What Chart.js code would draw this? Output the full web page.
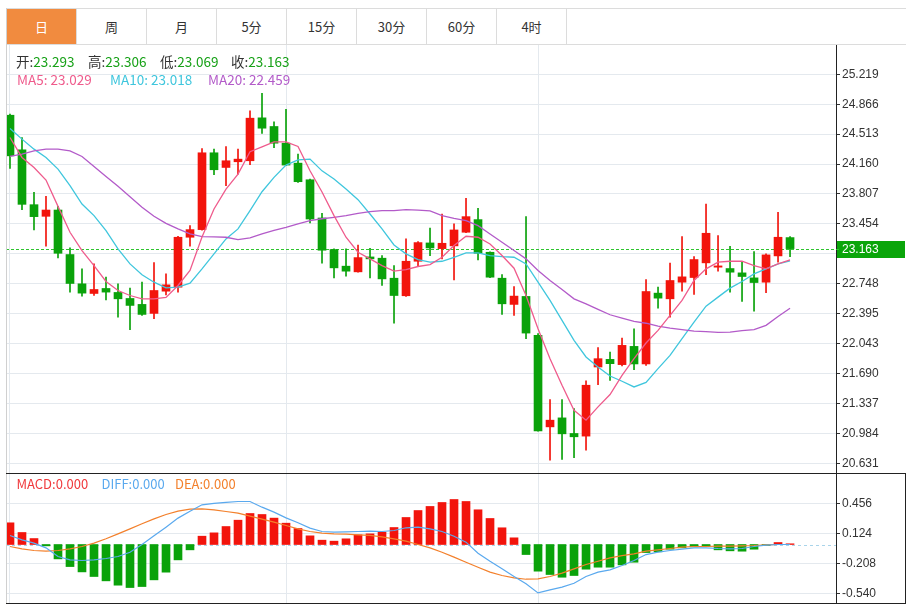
<!DOCTYPE html>
<html>
<head>
<meta charset="utf-8">
<script src="https://cdn.jsdelivr.net/npm/chart.js@4.4.1/dist/chart.umd.min.js"></script>
<style>
html,body{margin:0;padding:0;background:#fff;}
body{width:912px;height:604px;overflow:hidden;position:relative;font-family:"Noto Sans CJK SC","Noto Sans",sans-serif;}
.abs{position:absolute;}
.tab{position:absolute;top:9px;height:35px;width:69px;border-right:1px solid #dcdcdc;text-align:center;line-height:35px;font-size:13px;color:#333;}
.tab.on{background:#f18b3f;color:#fff;}
.hl{position:absolute;white-space:nowrap;line-height:16px;}
canvas{display:block;}
</style>
</head>
<body>
<div id="tabs"></div>
<div class="abs" style="left:6px;top:8px;width:900px;height:1px;background:#dcdcdc"></div>
<div class="abs" style="left:6px;top:44px;width:900px;height:1px;background:#dcdcdc"></div>
<div class="abs" style="left:6px;top:8px;width:1px;height:596px;background:#d0d0d0;z-index:3"></div>

<div class="abs" style="left:0;top:45px;width:912px;height:428px"><canvas id="main" width="912" height="428"></canvas></div>
<div class="abs" style="left:0;top:473px;width:912px;height:131px"><canvas id="macd" width="912" height="131"></canvas></div>

<div class="abs" style="left:6px;top:473px;width:900px;height:1px;background:#222;z-index:3"></div>
<div class="abs" style="left:6px;top:603px;width:900px;height:1px;background:#222;z-index:3"></div>
<div class="abs" style="left:905px;top:473px;width:1px;height:131px;background:#222;z-index:3"></div>

<div id="hdr"></div>

<script>
// ---------------- data ----------------
const tabLabels = ['日','周','月','5分','15分','30分','60分','4时'];

const opens  = [24.736,24.328,23.681,23.544,23.618,23.093,22.748,22.634,22.693,22.646,
                22.575,22.505,22.399,22.661,22.708,23.297,23.387,24.293,24.120,24.187,
                24.199,24.705,24.603,24.406,24.171,23.975,23.524,23.152,22.956,22.889,
                23.065,23.050,22.814,22.607,23.014,23.230,23.163,23.195,23.356,23.505,
                23.120,22.814,22.505,22.599,22.140,21.061,21.167,20.983,20.952,21.767,
                21.857,21.795,22.010,21.803,22.638,22.571,22.767,22.822,22.995,22.944,
                22.928,22.877,22.818,22.767,23.077,23.293];
const highs  = [24.748,24.473,23.826,23.779,23.661,23.171,22.924,22.983,22.826,22.748,
                22.697,22.767,22.999,22.865,23.308,23.434,24.344,24.336,24.367,24.336,
                24.787,24.995,24.657,24.806,24.277,23.983,23.579,23.160,23.159,23.206,
                23.167,23.081,22.963,23.277,23.246,23.406,23.571,23.454,23.756,23.638,
                23.125,22.857,22.716,23.540,22.160,21.383,21.383,21.277,21.603,21.995,
                21.944,22.108,22.218,22.799,22.708,22.991,23.305,23.069,23.689,23.316,
                23.191,23.014,23.128,23.101,23.591,23.306];
const lows   = [24.108,23.622,23.383,23.191,23.054,22.650,22.603,22.610,22.559,22.356,
                22.206,22.375,22.336,22.618,22.650,23.191,23.380,24.034,23.905,24.042,
                24.152,24.520,24.352,24.140,23.944,23.465,22.991,22.818,22.838,22.885,
                22.818,22.728,22.285,22.600,22.952,23.081,23.042,22.795,23.350,23.030,
                22.820,22.387,22.375,22.101,21.010,20.669,20.677,20.697,20.787,21.559,
                21.610,21.779,21.736,21.787,22.461,22.356,22.661,22.622,22.857,22.897,
                22.650,22.540,22.426,22.642,23.003,23.069];
const closes = [24.257,23.685,23.540,23.618,23.108,22.752,22.638,22.681,22.650,22.571,
                22.493,22.387,22.669,22.736,23.297,23.387,24.293,24.093,24.199,24.218,
                24.701,24.583,24.406,24.148,23.952,23.512,23.144,22.936,22.897,23.057,
                23.042,22.806,22.610,23.014,23.234,23.171,23.226,23.383,23.540,23.108,
                22.826,22.512,22.603,22.167,21.014,21.140,20.979,20.944,21.552,21.865,
                21.806,22.022,21.803,22.657,22.579,22.787,22.830,23.034,23.344,22.959,
                22.885,22.834,22.763,23.089,23.297,23.163];

const ma5  = [24.473,24.238,24.120,23.971,23.661,23.356,23.140,22.963,22.775,22.669,
              22.610,22.571,22.571,22.587,22.728,22.905,23.300,23.630,23.865,24.042,
              24.305,24.363,24.422,24.422,24.367,24.081,23.830,23.552,23.297,23.120,
              23.042,22.963,22.897,22.916,22.952,22.975,23.061,23.199,23.309,23.297,
              23.218,23.081,22.932,22.610,22.218,21.865,21.552,21.257,21.140,21.297,
              21.442,21.669,21.865,22.050,22.199,22.375,22.552,22.787,22.924,23.003,
              23.014,23.014,22.963,22.924,22.983,23.029];
const ma10 = [24.579,24.454,24.336,24.238,24.101,23.905,23.689,23.552,23.375,23.159,
              22.983,22.854,22.767,22.700,22.708,22.756,22.924,23.101,23.277,23.395,
              23.611,23.834,24.003,24.148,24.210,24.218,24.080,23.983,23.865,23.740,
              23.571,23.395,23.206,23.101,23.034,23.003,23.014,23.061,23.112,23.112,
              23.081,23.069,23.061,22.983,22.767,22.552,22.316,22.081,21.885,21.767,
              21.661,21.599,21.532,21.585,21.748,21.904,22.101,22.297,22.485,22.591,
              22.697,22.775,22.865,22.924,22.983,23.018];
const ma20 = [24.250,24.277,24.316,24.336,24.336,24.316,24.250,24.132,24.014,23.897,
              23.775,23.650,23.544,23.460,23.395,23.336,23.305,23.301,23.297,23.269,
              23.289,23.336,23.379,23.414,23.454,23.493,23.515,23.532,23.552,23.579,
              23.599,23.611,23.611,23.622,23.618,23.607,23.552,23.520,23.493,23.434,
              23.336,23.238,23.140,23.042,22.905,22.787,22.681,22.571,22.512,22.446,
              22.383,22.344,22.305,22.283,22.250,22.226,22.207,22.191,22.183,22.175,
              22.179,22.195,22.207,22.258,22.363,22.459];

const macdHist = [0.240,0.133,0.066,-0.015,-0.159,-0.244,-0.303,-0.354,-0.402,-0.450,
                  -0.476,-0.465,-0.391,-0.306,-0.170,-0.059,0.092,0.129,0.199,0.269,
                  0.343,0.332,0.292,0.236,0.177,0.096,0.048,0.037,0.063,0.107,
                  0.118,0.137,0.188,0.299,0.376,0.421,0.465,0.498,0.476,0.384,
                  0.288,0.185,0.074,-0.111,-0.295,-0.332,-0.362,-0.343,-0.273,-0.251,
                  -0.251,-0.225,-0.196,-0.089,-0.081,-0.052,-0.037,-0.026,-0.022,-0.059,
                  -0.070,-0.074,-0.052,-0.011,0.022,0.008];
const diff = [0.100,0.052,0.015,-0.037,-0.133,-0.170,-0.177,-0.170,-0.155,-0.133,
              -0.085,0.000,0.096,0.192,0.292,0.369,0.439,0.454,0.465,0.476,
              0.476,0.413,0.358,0.295,0.240,0.181,0.144,0.137,0.140,0.144,
              0.148,0.144,0.155,0.185,0.192,0.173,0.144,0.092,0.026,-0.096,
              -0.185,-0.269,-0.354,-0.435,-0.535,-0.502,-0.472,-0.428,-0.354,-0.306,
              -0.280,-0.232,-0.177,-0.111,-0.085,-0.066,-0.052,-0.037,-0.037,-0.044,
              -0.048,-0.044,-0.022,-0.007,0.000,0.000];
const dea = [-0.022,-0.048,-0.066,-0.074,-0.066,-0.048,-0.022,0.015,0.063,0.118,
             0.173,0.229,0.284,0.332,0.369,0.391,0.395,0.384,0.365,0.347,
             0.314,0.280,0.247,0.210,0.173,0.144,0.125,0.118,0.114,0.107,
             0.100,0.085,0.063,0.037,0.000,-0.037,-0.085,-0.140,-0.196,-0.251,
             -0.306,-0.343,-0.369,-0.384,-0.380,-0.354,-0.317,-0.269,-0.221,-0.185,
             -0.148,-0.122,-0.103,-0.074,-0.059,-0.044,-0.030,-0.022,-0.022,-0.018,
             -0.018,-0.015,-0.011,-0.004,0.000,0.000];

const yTicks      = [20.631,20.984,21.337,21.690,22.043,22.395,22.748,23.101,23.454,23.807,24.160,24.513,24.866,25.219];
const yTickLabels = ['20.631','20.984','21.337','21.690','22.043','22.395','22.748','23.101','23.454','23.807','24.160','24.513','24.866','25.219'];
const macdTicks      = [-0.540,-0.208,0.124,0.456];
const macdTickLabels = ['-0.540','-0.208','0.124','0.456'];
const vGridIdx = [0,23,44];

// ---------------- styles ----------------
const RED='#f2140c', GREEN='#0aa20a';
const C_MA5='#ef5b8c', C_MA10='#3fc6dd', C_MA20='#b35bc9';
const C_DIFF='#5aa9ee', C_DEA='#f3802c';
const GRID='#e4e9ee';
const PRICE_LINE='#2ec42e';
const FONT_AX={family:'"Liberation Sans", Arial, sans-serif', size:12};

// tabs
const tabs=document.getElementById('tabs');
tabLabels.forEach((t,i)=>{
  const d=document.createElement('div');
  d.className='tab'+(i===0?' on':'');
  d.style.left=(7+70*i)+'px';
  d.textContent=t;
  tabs.appendChild(d);
});

// header texts
const hdr=document.getElementById('hdr');
function put(x,yc,html,size){
  const d=document.createElement('div');d.className='hl';
  d.style.left=x+'px';d.style.top=(yc-8)+'px';d.style.fontSize=size+'px';
  d.innerHTML=html;hdr.appendChild(d);
}
const n=closes.length-1;
const VG='#17a117', LB='#333';
put(16,61,`<span style="color:${LB}">开:</span><span style="color:${VG}">${opens[n].toFixed(3)}</span>`,13.5);
put(88,61,`<span style="color:${LB}">高:</span><span style="color:${VG}">${highs[n].toFixed(3)}</span>`,13.5);
put(160,61,`<span style="color:${LB}">低:</span><span style="color:${VG}">${lows[n].toFixed(3)}</span>`,13.5);
put(231,61,`<span style="color:${LB}">收:</span><span style="color:${VG}">${closes[n].toFixed(3)}</span>`,13.5);
put(17,79,`<span style="color:${C_MA5}">MA5: ${ma5[n].toFixed(3)}</span>`,13.5);
put(110,79,`<span style="color:${C_MA10}">MA10: ${ma10[n].toFixed(3)}</span>`,13.5);
put(208,79,`<span style="color:${C_MA20}">MA20: ${ma20[n].toFixed(3)}</span>`,13.5);
put(16.5,484,`<span style="color:#f0393c">MACD:0.000</span>`,13);
put(101.5,484,`<span style="color:${C_DIFF}">DIFF:0.000</span>`,13);
put(175,484,`<span style="color:${C_DEA}">DEA:0.000</span>`,13);

// ---------------- charts ----------------
const idx = closes.map((_,i)=>i);
const up = i => closes[i] >= opens[i];
const pts = arr => arr.map((v,i)=>({x:i,y:v}));
const X_MIN=-0.333, X_MAX=68.83;

function xScale(){
  return {type:'linear',min:X_MIN,max:X_MAX,offset:false,
    ticks:{display:false},grid:{color:GRID,drawTicks:false,offset:false},border:{display:false},
    afterBuildTicks:s=>{s.ticks=vGridIdx.map(v=>({value:v}));},
    afterFit:s=>{s.height=0;s.paddingLeft=0;s.paddingRight=0;}};
}
function yScale(min,max,ticks,labels){
  return {type:'linear',position:'right',min:min,max:max,
    afterBuildTicks:s=>{s.ticks=ticks.map(v=>({value:v}));},
    ticks:{autoSkip:false,color:'#333',font:FONT_AX,padding:2,callback:(v,i)=>labels[i]},
    grid:{color:GRID,tickColor:'#333',tickLength:4},
    border:{display:true,color:'#222'},
    afterFit:s=>{s.width=76;s.paddingTop=0;s.paddingBottom=0;}};
}

const pricePlugin={
  id:'price',
  beforeDatasetsDraw(chart){
    const {ctx,chartArea:a,scales:{y}}=chart;
    const py=Math.round(y.getPixelForValue(closes[n]))+0.5;
    ctx.save();ctx.strokeStyle=PRICE_LINE;ctx.lineWidth=1;ctx.setLineDash([3,2]);
    ctx.beginPath();ctx.moveTo(a.left,py);ctx.lineTo(a.right,py);ctx.stroke();ctx.restore();
  },
  afterDraw(chart){
    const {ctx,chartArea:a,scales:{y}}=chart;
    const py=Math.round(y.getPixelForValue(closes[n]));
    ctx.save();
    ctx.fillStyle='#0aa50a';ctx.fillRect(a.right+1,py-8,68,17);
    ctx.strokeStyle=PRICE_LINE;ctx.setLineDash([3,2]);ctx.beginPath();ctx.moveTo(a.right,py+0.5);ctx.lineTo(a.right+4,py+0.5);ctx.stroke();
    ctx.fillStyle='#fff';ctx.font='12px "Liberation Sans", Arial, sans-serif';ctx.textBaseline='middle';
    ctx.fillText(closes[n].toFixed(3),a.right+6,py+1);
    ctx.restore();
  }
};

new Chart(document.getElementById('main'),{
  type:'line',
  data:{datasets:[
    {type:'bar',data:idx.map(i=>({x:i,y:[lows[i],highs[i]]})),backgroundColor:idx.map(i=>up(i)?RED:GREEN),barThickness:1,grouped:false,order:3},
    {type:'bar',data:idx.map(i=>({x:i,y:[opens[i],closes[i]]})),backgroundColor:idx.map(i=>up(i)?RED:GREEN),barThickness:8,grouped:false,minBarLength:1,order:2},
    {type:'line',data:pts(ma20),borderColor:C_MA20,borderWidth:1.3,pointRadius:0,tension:0,order:1},
    {type:'line',data:pts(ma10),borderColor:C_MA10,borderWidth:1.3,pointRadius:0,tension:0,order:1},
    {type:'line',data:pts(ma5),borderColor:C_MA5,borderWidth:1.3,pointRadius:0,tension:0,order:0}
  ]},
  options:{responsive:false,animation:false,devicePixelRatio:1,
    layout:{padding:{left:6,right:0,top:0,bottom:0}},
    plugins:{legend:{display:false},tooltip:{enabled:false}},
    scales:{x:xScale(),y:yScale(20.517,25.564,yTicks,yTickLabels)}},
  plugins:[pricePlugin]
});

const zeroPlugin={
  id:'zero',
  beforeDatasetsDraw(chart){
    const {ctx,chartArea:a,scales:{y}}=chart;
    const py=Math.round(y.getPixelForValue(0))+0.5;
    ctx.save();ctx.strokeStyle='#a9d4ea';ctx.lineWidth=1;ctx.setLineDash([3,3]);
    ctx.beginPath();ctx.moveTo(a.left,py);ctx.lineTo(a.right,py);ctx.stroke();ctx.restore();
  }
};

new Chart(document.getElementById('macd'),{
  type:'line',
  data:{datasets:[
    {type:'bar',data:pts(macdHist),backgroundColor:macdHist.map(v=>v>=0?RED:GREEN),barThickness:8,grouped:false,order:2},
    {type:'line',data:pts(dea),borderColor:C_DEA,borderWidth:1.2,pointRadius:0,tension:0,order:1},
    {type:'line',data:pts(diff),borderColor:C_DIFF,borderWidth:1.2,pointRadius:0,tension:0,order:0}
  ]},
  options:{responsive:false,animation:false,devicePixelRatio:1,
    layout:{padding:{left:6,right:0,top:0,bottom:1}},
    plugins:{legend:{display:false},tooltip:{enabled:false}},
    scales:{x:xScale(),y:yScale(-0.647,0.791,macdTicks,macdTickLabels)}},
  plugins:[zeroPlugin]
});
</script>
</body>
</html>
